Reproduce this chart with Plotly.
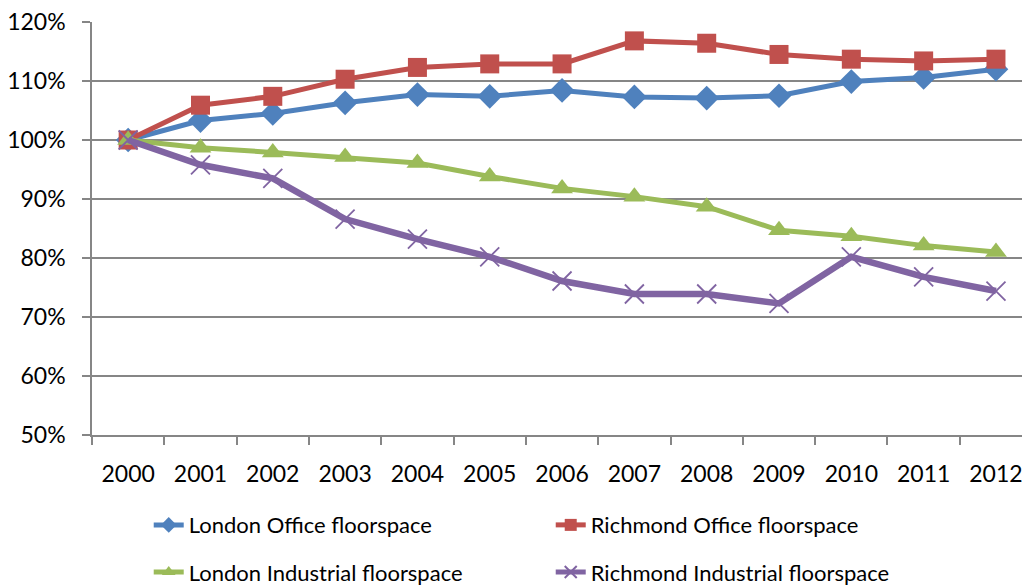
import plotly.graph_objects as go

years = [str(y) for y in range(2000, 2013)]
london_office = [100, 103.3, 104.5, 106.3, 107.7, 107.4, 108.4, 107.3, 107.1, 107.5, 109.9, 110.6, 112.0]
richmond_office = [100, 105.9, 107.4, 110.3, 112.3, 112.9, 112.9, 116.8, 116.4, 114.5, 113.7, 113.4, 113.7]
london_industrial = [100, 98.7, 97.9, 97.1, 96.1, 93.8, 91.8, 90.4, 88.7, 84.7, 83.7, 82.1, 81.0]
richmond_industrial = [100, 95.8, 93.5, 86.6, 83.2, 80.2, 76.1, 73.9, 73.9, 72.3, 80.2, 76.8, 74.4]
y_ticks = [50, 60, 70, 80, 90, 100, 110, 120]
y_tick_text = [f"{v}%" for v in y_ticks]

FONT = "Lato, 'Open Sans', sans-serif"

series = [
    ("London Office floorspace", london_office, "#4F81BD", "diamond", 19, 5, "legend"),
    ("Richmond Office floorspace", richmond_office, "#C0504D", "square", 19, 5, "legend"),
    ("London Industrial floorspace", london_industrial, "#9BBB59", "triangle-up", 19, 5, "legend2"),
    ("Richmond Industrial floorspace", richmond_industrial, "#8064A2", "x-thin", 19, 6.5, "legend2"),
]

fig = go.Figure()
for name, vals, color, sym, size, lw, leg in series:
    marker = dict(symbol=sym, size=size, color=color)
    if sym == "x-thin":
        marker["line"] = dict(color=color, width=1.8)
    fig.add_trace(go.Scatter(
        x=years, y=vals, name=name, mode="lines+markers",
        line=dict(color=color, width=lw), marker=marker, legend=leg,
    ))

legend_common = dict(
    orientation="h", xanchor="left", yanchor="middle",
    xref="paper", yref="container",
    font=dict(family=FONT, size=22, color="#000000"),
    entrywidth=357, entrywidthmode="pixels",
    bgcolor="rgba(0,0,0,0)", itemsizing="constant",
)

fig.update_layout(
    width=1022, height=588,
    margin=dict(l=92, r=0, t=22, b=153),
    paper_bgcolor="white", plot_bgcolor="white",
    font=dict(family=FONT, size=22, color="#000000"),
    showlegend=True,
    legend=dict(x=0.061, y=0.107, **legend_common),
    legend2=dict(x=0.061, y=0.027, **legend_common),
    xaxis=dict(
        type="category", range=[-0.5, 12.36], automargin=False,
        tickson="boundaries", ticks="outside", ticklen=8, tickcolor="#868686", tickwidth=1.5,
        showgrid=False, showline=True, linecolor="#868686", linewidth=1.5,
        tickfont=dict(family=FONT, size=23, color="#000000"),
        ticklabelstandoff=18,
    ),
    yaxis=dict(
        range=[50, 120], tickvals=y_ticks, ticktext=y_tick_text, automargin=False,
        ticks="outside", ticklen=8, tickcolor="#868686", tickwidth=1.5,
        showgrid=True, gridcolor="#868686", gridwidth=1.5,
        showline=True, linecolor="#868686", linewidth=1.5,
        zeroline=False,
        tickfont=dict(family=FONT, size=23, color="#000000"),
        ticklabelstandoff=12,
    ),
)

fig.write_html(
    "out.html",
    config={"displayModeBar": False},
    post_script="document.body.style.margin='0';document.body.style.overflow='hidden';",
)
